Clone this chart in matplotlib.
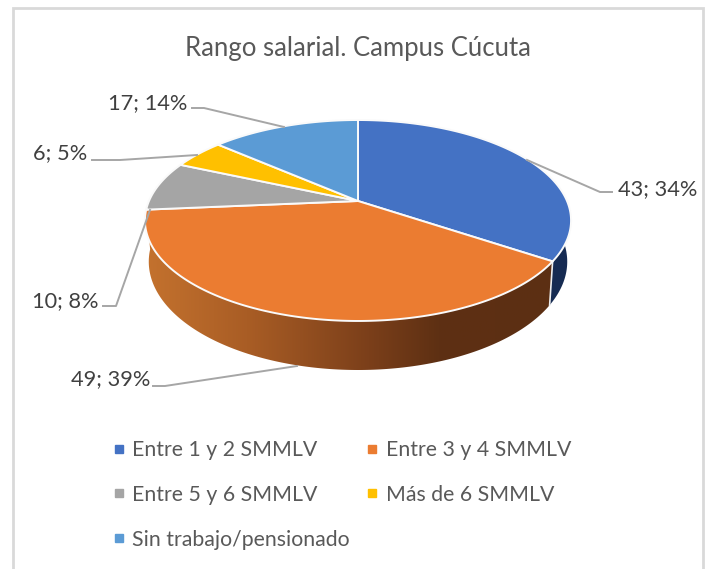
import numpy as np
import matplotlib
matplotlib.use("Agg")
import matplotlib.pyplot as plt
from matplotlib.colors import LinearSegmentedColormap
from matplotlib.patches import Polygon
from matplotlib.lines import Line2D

# ---- data ----
categories = ["Entre 1 y 2 SMMLV", "Entre 3 y 4 SMMLV", "Entre 5 y 6 SMMLV",
              "Más de 6 SMMLV", "Sin trabajo/pensionado"]
values = [43, 49, 10, 6, 17]
colors = ["#4472C4", "#EB7C31", "#A5A5A5", "#FFC000", "#5B9BD5"]
title = "Rango salarial. Campus Cúcuta"

plt.rcParams["font.family"] = ["Lato", "DejaVu Sans"]
TEXT = "#595959"

fig = plt.figure(figsize=(7.11, 5.69), dpi=100, facecolor="white")
ax = fig.add_axes([0, 0, 1, 1])
ax.set_xlim(0, 711)
ax.set_ylim(569, 0)
ax.axis("off")

# chart frame (continues past the bottom of the image)
ax.plot([13, 13, 702.5, 702.5], [580, 8, 8, 580], color="#D9D9D9", lw=2, solid_joinstyle="miter")

# perspective projection of the pie's circular rims
def project(theta_deg, x0, y0, a, b, k):
    t = np.radians(theta_deg)
    u, v = np.sin(t), np.cos(t)
    d = 1 + k * v
    return x0 + a * u / d, y0 - b * v / d

TOP = dict(x0=358, y0=201, a=209, b=96.7, k=0.194)
BOT = dict(x0=358, y0=240, a=205, b=104, k=0.2)

total = sum(values)
edges = 360 * np.cumsum([0] + values) / total

def arc(t0, t1):
    return np.linspace(t0, t1, max(int(abs(t1 - t0)) * 2, 2))

def wall_poly(t0, t1):
    th = arc(t0, t1)
    xt, yt = project(th, **TOP)
    xb, yb = project(th[::-1], **BOT)
    return np.column_stack([np.r_[xt, xb], np.r_[yt, yb]])

# side walls (front-facing slices only)
blue_wall = wall_poly(90, edges[1])
ax.add_patch(Polygon(blue_wall, closed=True, fc="#162B52", ec="none", zorder=2))

orange_wall = wall_poly(edges[1], edges[2])
clip = Polygon(orange_wall, closed=True, transform=ax.transData, fc="none", ec="none")
ax.add_patch(clip)
cmap = LinearSegmentedColormap.from_list("wall", [
    (0.00, "#C4722E"), (0.25, "#A95D25"), (0.55, "#7B3F1A"),
    (0.72, "#5E3013"), (1.00, "#5C2F13")])
grad = np.linspace(0, 1, 256)[None, :]
xmin, xmax = orange_wall[:, 0].min(), orange_wall[:, 0].max()
im = ax.imshow(grad, cmap=cmap, extent=[xmin, xmax, 380, 200], aspect="auto", zorder=2)
im.set_clip_path(clip)
ax.set_xlim(0, 711)
ax.set_ylim(569, 0)

# wall seam between blue and orange
xs, ys = project(edges[1], **TOP)
xe, ye = project(edges[1], **BOT)
ax.plot([xs, xe], [ys, ye], color="#EDEDED", lw=1.2, zorder=3)

# top faces
cx, cy = TOP["x0"], TOP["y0"]
for i, c in enumerate(colors):
    th = arc(edges[i], edges[i + 1])
    x, y = project(th, **TOP)
    pts = np.column_stack([np.r_[cx, x], np.r_[cy, y]])
    ax.add_patch(Polygon(pts, closed=True, fc=c, ec="#FAFAFA", lw=1.4,
                         joinstyle="round", zorder=4))

# data labels with leader lines
leaders = [
    ([527, 600, 612], [160, 192, 192], 618, 189),
    ([297, 165, 153], [366, 386, 386], 71, 379),
    ([150, 116, 103], [210, 306, 306], 32, 301),
    ([197, 120, 92], [155, 160, 160], 33, 153),
    ([284, 204, 192], [127, 108, 108], 108, 103),
]
for v, (lx, ly, tx, ty) in zip(values, leaders):
    ax.plot(lx, ly, color="#A6A6A6", lw=1.4, zorder=5)
    ax.text(tx, ty, f"{v}; {round(100 * v / total)}%", fontsize=15.7,
            color="#404040", va="center", ha="left")

ax.text(358, 48, title, fontsize=18.5, color=TEXT, ha="center", va="center")

# legend: column 1 holds entries 0, 2, 4 and column 2 holds 1, 3
order = [0, 2, 4, 1, 3]
handles = [Line2D([], [], marker="s", ls="none", ms=5.5, color=colors[i]) for i in order]
ax.legend(handles, [categories[i] for i in order], ncol=2, frameon=False,
          loc="upper left", bbox_to_anchor=(108 / 711, 1 - 440 / 569),
          fontsize=15.3, labelcolor=TEXT, handletextpad=0.15, columnspacing=0.55,
          labelspacing=1.17, borderpad=0, borderaxespad=0, handlelength=1.0)

fig.savefig("out.png", dpi=100, facecolor="white")
